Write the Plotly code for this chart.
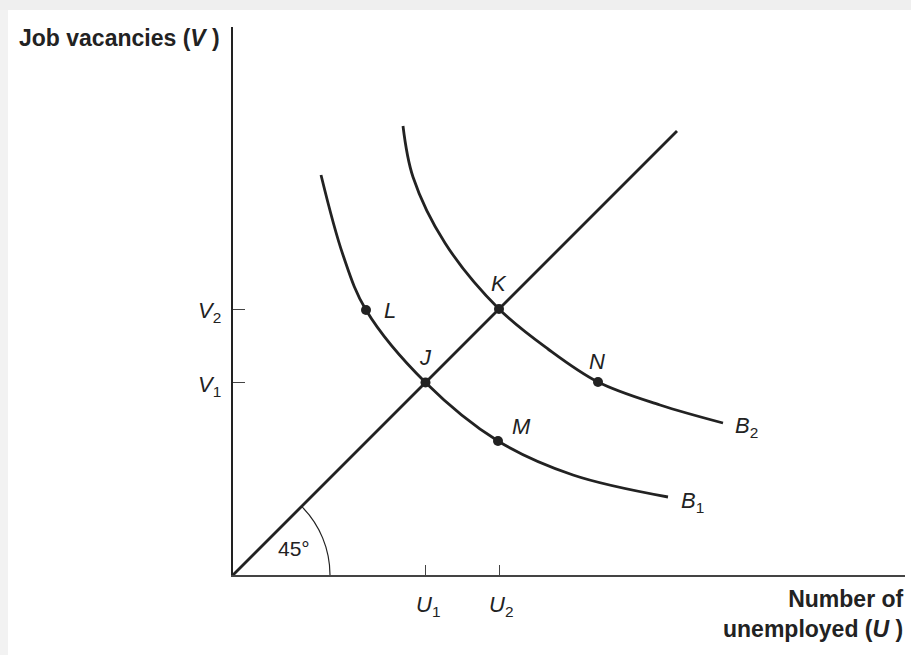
import plotly.graph_objects as go

# ---- data (units: arbitrary) ----
b1_u = [8.8, 11.0, 13.3, 19.25, 26.5, 34.0, 43.5]
b1_v = [40.0, 32.0, 26.5, 19.25, 13.4, 10.0, 7.8]
b2_u = [17.0, 18.0, 21.2, 26.6, 31.5, 36.5, 42.7, 49.0]
b2_v = [44.9, 39.8, 33.2, 26.6, 22.6, 19.3, 17.0, 15.2]
line45_u = [0, 44.4]
line45_v = [0, 44.4]
point_names = ["L", "J", "K", "M", "N"]
point_u = [13.3, 19.25, 26.6, 26.5, 36.5]
point_v = [26.5, 19.25, 26.6, 13.4, 19.3]
u_ticks = [19.25, 26.6]
u_tick_text = ["<i>U</i><sub>1</sub>", "<i>U</i><sub>2</sub>"]
v_ticks = [19.25, 26.6]
v_tick_text = ["<i>V</i><sub>1</sub>", "<i>V</i><sub>2</sub>"]
x_max = 67.2
y_max = 54.8

# ---- layout geometry (pixels) ----
W, H = 911, 655
L_M, R_M, T_M, B_M = 233, 6, 27, 80
PW = W - L_M - R_M
PH = H - T_M - B_M

def px(xp):
    return (xp - L_M) / PW

def py(yp):
    return (H - B_M - yp) / PH

INK = "#222222"
FONT = "Liberation Sans, Arial, sans-serif"

fig = go.Figure()

fig.add_trace(go.Scatter(x=line45_u, y=line45_v, mode="lines",
                         line=dict(color=INK, width=2.8), hoverinfo="skip"))
fig.add_trace(go.Scatter(x=b1_u, y=b1_v, mode="lines",
                         line=dict(color=INK, width=2.8, shape="spline", smoothing=1.0),
                         hoverinfo="skip"))
fig.add_trace(go.Scatter(x=b2_u, y=b2_v, mode="lines",
                         line=dict(color=INK, width=2.8, shape="spline", smoothing=1.0),
                         hoverinfo="skip"))
fig.add_trace(go.Scatter(x=point_u, y=point_v, mode="markers",
                         marker=dict(color=INK, size=10), hoverinfo="skip"))

# 45 degree arc (cubic Bezier approximation), radius 9.7 units
r = 9.7
k = 0.26521
c45 = 0.70711
p1 = (r, k * r)
p2 = (r * (c45 + k * c45), r * (c45 - k * c45))
p3 = (r * c45, r * c45)
arc_path = f"M {r},0 C {p1[0]},{p1[1]} {p2[0]},{p2[1]} {p3[0]},{p3[1]}"

shapes = [
    dict(type="path", path=arc_path, xref="x", yref="y",
         line=dict(color=INK, width=1.2)),
    # scan border strips
    dict(type="rect", xref="paper", yref="paper", x0=px(0), x1=px(W), y0=py(10), y1=py(0),
         fillcolor="#efefef", line=dict(width=0), layer="below"),
    dict(type="rect", xref="paper", yref="paper", x0=px(0), x1=px(8), y0=py(H), y1=py(10),
         fillcolor="#f2f2f2", line=dict(width=0), layer="below"),
]

ann = []
def add_text(text, xp, yp, size=21, xanchor="center", yanchor="middle", align="center"):
    ann.append(dict(text=text, x=px(xp), y=py(yp), xref="paper", yref="paper",
                    showarrow=False, xanchor=xanchor, yanchor=yanchor, align=align,
                    font=dict(family=FONT, size=size, color=INK)))

# point labels
label_pos = {"L": (390, 311), "J": (425, 357), "K": (499, 283), "M": (521, 426), "N": (597, 361)}
for name in point_names:
    xp, yp = label_pos[name]
    add_text(f"<i>{name}</i>", xp, yp, size=22)

add_text("<i>B</i><sub>2</sub>", 746, 427, size=22)
add_text("<i>B</i><sub>1</sub>", 692, 502, size=22)
add_text("45°", 294, 548)

# tick labels
for val, txt in zip(u_ticks, u_tick_text):
    add_text(txt, L_M + val * PW / x_max + 2, 606, size=22)
for val, txt in zip(v_ticks, v_tick_text):
    add_text(txt, 223, H - B_M - val * PH / y_max + 3, size=22, xanchor="right")

# axis titles
add_text("<b>Job vacancies (<i>V</i> )</b>", 17, 38, size=23, xanchor="left")
add_text("<b>Number of<br>unemployed (<i>U</i> )</b>", 906, 614, size=23,
         xanchor="right", align="right")

fig.update_layout(
    width=W, height=H,
    margin=dict(l=L_M, r=R_M, t=T_M, b=B_M, pad=0),
    paper_bgcolor="white", plot_bgcolor="white",
    showlegend=False,
    shapes=shapes,
    annotations=ann,
    xaxis=dict(range=[0, x_max], showgrid=False, zeroline=False,
               showline=True, linecolor="#444444", linewidth=1.5,
               tickvals=u_ticks, ticks="inside", ticklen=10, tickwidth=1.2,
               tickcolor="#444444", showticklabels=False, fixedrange=True),
    yaxis=dict(range=[0, y_max], showgrid=False, zeroline=False,
               showline=True, linecolor=INK, linewidth=1.8,
               tickvals=v_ticks, ticks="inside", ticklen=12, tickwidth=1.2,
               tickcolor="#444444", showticklabels=False, fixedrange=True),
)

fig.write_html("out.html", config={"displayModeBar": False},
               post_script="document.body.style.margin='0';document.body.style.padding='0';")
